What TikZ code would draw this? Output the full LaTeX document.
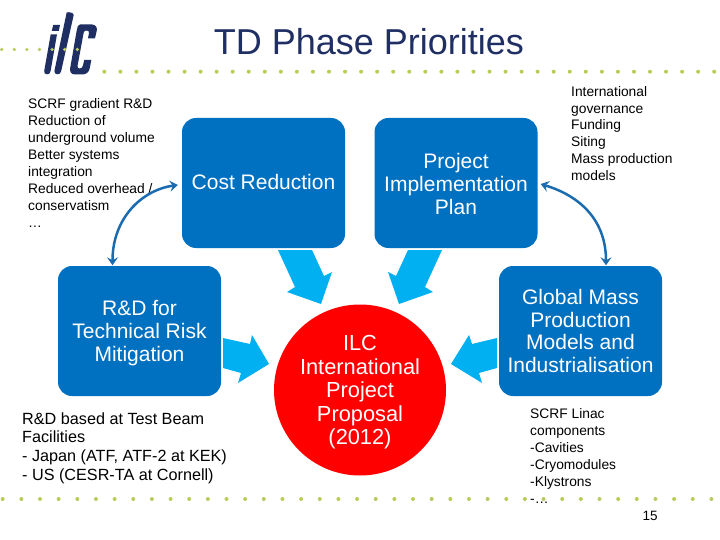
\documentclass[tikz,border=0pt]{standalone}
\usepackage{fontspec}
\setmainfont{Liberation Sans}
\usetikzlibrary{arrows.meta,calc,shapes.geometric}
\definecolor{boxblue}{HTML}{0070C0}
\definecolor{arrowblue}{HTML}{00B0F0}
\definecolor{linkblue}{HTML}{1A6BAF}
\definecolor{navy}{HTML}{1F2F63}
\definecolor{dotgreen}{HTML}{B9CC5A}
\newcommand{\firstline}[1]{\rule{0pt}{#1pt}}
\tikzset{
  x=1pt,y=-1pt,
  bluebox/.style={draw=none,fill=boxblue,rounded corners=14pt,minimum width=163pt,minimum height=130pt,inner sep=0pt,align=center,text=white,font=\fontsize{21}{22.8}\selectfont},
  redcircle/.style={draw=none,fill=red,ellipse,minimum width=172pt,minimum height=171pt,inner sep=0pt,align=center,text=white,font=\fontsize{21.8}{23.5}\selectfont},
  bigarrow/.style={fill=arrowblue,draw=none},
  logoink/.style={fill=navy,draw=none},
  link/.style={draw=linkblue,line width=2.5pt,{Stealth[length=8pt,width=11pt,inset=3pt]}-{Stealth[length=8pt,width=11pt,inset=3pt]}},
  smalltext/.style={anchor=west,inner sep=0pt,align=left,text=black,font=\fontsize{13.8}{16.9}\selectfont},
  midtext/.style={anchor=west,inner sep=0pt,align=left,text=black,font=\fontsize{16.2}{18.7}\selectfont},
  greendot/.style={fill=dotgreen,draw=none}
}
\begin{document}
\begin{tikzpicture}
\useasboundingbox (0,0) rectangle (720,540);
% logo
\fill[logoink] (53.3,25) -- (60,25) -- (58.7,31) -- (51.7,31) -- cycle;
\fill[logoink] (50.7,34.3) -- (57,34.3) -- (50.6,71) .. controls (50.2,73.5) and (49,74.3) .. (47,74.3) .. controls (45,74.3) and (43.8,73) .. (44.2,71) -- cycle;
\fill[logoink] (66.7,12.3) .. controls (69,12) and (73.5,12.5) .. (73.7,15) -- (61.2,71) .. controls (60.8,73.5) and (59.5,74.3) .. (57.5,74.3) .. controls (55.5,74.3) and (54,73) .. (54.4,71) -- cycle;
\fill[logoink] (80,24.5) -- (92,24.5) .. controls (96,24.5) and (97.5,28) .. (96.7,31) -- (95,38.3) -- (88,38.3) -- (89,33) .. controls (89.4,31) and (88,30.5) .. (86.5,30.5) .. controls (85,30.5) and (84,31) .. (83.6,33) -- (77.6,65.5) .. controls (77.2,67.5) and (78,68.5) .. (79.5,68.5) .. controls (81.5,68.5) and (82.6,67.5) .. (83,65.5) -- (84.2,60) -- (91.3,60) -- (89.8,68) .. controls (89,72.5) and (86,74.5) .. (82,74.5) -- (75,74.5) .. controls (71,74.5) and (69.5,71.5) .. (70.2,68) -- (76.8,30) .. controls (77.3,27) and (78,24.5) .. (80,24.5) -- cycle;
% dotted rules
\foreach \i in {0,...,6} \fill[greendot] ({1.7+12.6*\i},49.5) circle (1.8pt);
\foreach \i in {0,...,38} \fill[greendot] ({104.3+16.05*\i},71.7) circle (2pt);
\foreach \i in {0,...,38} \fill[greendot] ({2.7+18.65*\i},499) circle (2pt);
% title
\node[text=navy,font=\fontsize{36}{40}\selectfont,inner sep=0pt] (title) at (369,42) {TD Phase Priorities};
% boxes
\node[bluebox] (cost) at (263.5,183) {Cost Reduction\rule[-2pt]{0pt}{0pt}};
\node[bluebox] (plan) at (456,183) {\firstline{17.5}Project\\Implementation\\Plan};
\node[bluebox] (rd) at (139.5,331) {\firstline{19.5}R\&D for\\Technical Risk\\Mitigation};
\node[bluebox] (glob) at (580.5,331) {Global Mass\\Production\\Models and\\Industrialisation};
\node[redcircle] (ilc) at (360,390) {\firstline{20}ILC\\International\\Project\\Proposal\\(2012)};
% block arrows
\fill[bigarrow] (278,250) -- (312,250) -- (324,276) -- (332,272) -- (321,304) -- (287,292) -- (295,287) -- cycle;
\fill[bigarrow] (442,250) -- (408,250) -- (396,276) -- (388,272) -- (399,304) -- (433,292) -- (425,287) -- cycle;
\fill[bigarrow] (223,338) -- (250,344) -- (252,335) -- (269,364) -- (238,383) -- (241,373) -- (223,368) -- cycle;
\fill[bigarrow] (497,338) -- (472,344) -- (469,335) -- (451,364) -- (482,383) -- (479,373) -- (497,368) -- cycle;
% texts
\node[smalltext] (costtext) at (28,163) {SCRF gradient R\&D\\Reduction of\\underground volume\\Better systems\\integration\\Reduced overhead /\\conservatism\\…};
\node[smalltext] (plantext) at (571,133.5) {International\\governance\\Funding\\Siting\\Mass production\\models};
\node[midtext] (rdtext) at (22,448) {R\&D based at Test Beam\\Facilities\\- Japan (ATF, ATF-2 at KEK)\\- US (CESR-TA at Cornell)};
\node[smalltext] (globtext) at (530,456) {SCRF Linac\\components\\-Cavities\\-Cryomodules\\-Klystrons\\-…};
\node[inner sep=0pt,text=black,font=\fontsize{13.5}{16}\selectfont] (page) at (650,516) {15};
% connectors
\coordinate (costleft) at ($(cost.west)+(-4,2)$);
\coordinate (rdtop) at ($(rd.north)+(-27,-0.5)$);
\coordinate (planright) at ($(plan.east)+(3,1)$);
\coordinate (globtop) at ($(glob.north)+(25.5,-0.5)$);
\draw[link] (costleft) .. controls (142,190) and (112.5,218) .. (rdtop);
\draw[link] (planright) .. controls (580,196) and (606,220) .. (globtop);
\end{tikzpicture}
\end{document}
